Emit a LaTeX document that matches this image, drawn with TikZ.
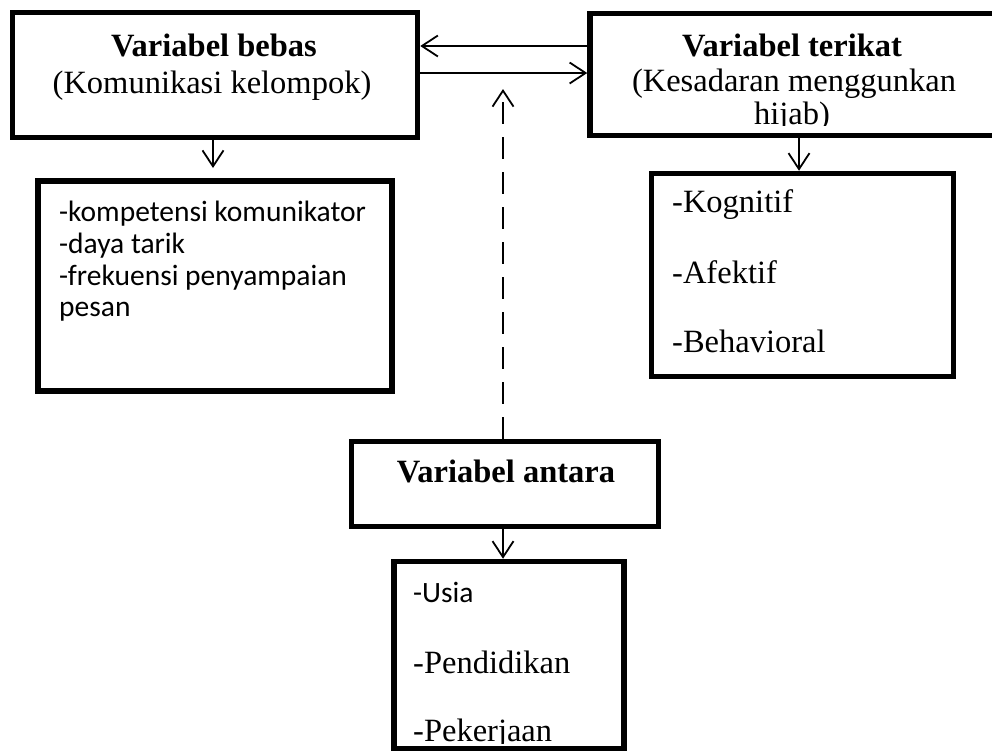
\documentclass[tikz,border=0pt]{standalone}
\usepackage{fontspec}
\setmainfont{Liberation Serif}
\setsansfont{Carlito}
\usetikzlibrary{arrows.meta}
\begin{document}
\begin{tikzpicture}[x=1pt,y=-1pt,
  box/.style={draw, line width=5.5pt, rectangle, inner sep=0pt, minimum width=#1},
  conn/.style={line width=1.8pt, -{Straight Barb[length=16pt,width=21pt,line width=1.8pt]}},
  dconn/.style={conn, dash pattern=on 22pt off 13pt},
  serif/.style={inner sep=0pt, anchor=base, font=\fontsize{32.5}{36}\selectfont},
  sserif/.style={inner sep=0pt, anchor=base west, font=\fontsize{32.5}{36}\selectfont},
  bserif/.style={inner sep=0pt, anchor=base, font=\fontsize{32.5}{36}\selectfont\bfseries},
  sans/.style={inner sep=0pt, anchor=base west, font=\sffamily\fontsize{29.5}{32}\selectfont}]
\useasboundingbox (0,0) rectangle (992,753);
\clip (0,0) rectangle (992,753);

% boxes (line centres)
\node[box=405pt, minimum height=125pt] (b1) at (215,75) {};
\node[box=408pt, minimum height=122pt] (b2) at (794,74.5) {};
\node[box=354pt, minimum height=210pt] (b3) at (215,286) {};
\node[box=302pt, minimum height=203pt] (b4) at (802.5,275) {};
\node[box=307pt, minimum height=85pt] (b5) at (505,484) {};
\node[box=230pt, minimum height=187pt] (b6) at (509,655) {};

% texts
\node[bserif] (t1a) at (214,56) {Variabel bebas};
\node[serif] (t1b) at (212,93) {(Komunikasi kelompok)};

\node[bserif] (t2a) at (792,56) {Variabel terikat};
\node[serif] (t2b) at (794,91) {(Kesadaran menggunkan};
\begin{scope}
  \clip (590,100) rectangle (992,125.5);
  \node[serif] (t2c) at (792,124) {hijab)};
\end{scope}

\node[sans] (t3a) at (59,221) {-kompetensi komunikator};
\node[sans] (t3b) at (59,253) {-daya tarik};
\node[sans] (t3c) at (59,285) {-frekuensi penyampaian};
\node[sans] (t3d) at (59,316) {pesan};

\node[sserif] (t4a) at (672,212) {-Kognitif};
\node[sserif] (t4b) at (672,283) {-Afektif};
\node[sserif] (t4c) at (672,352) {-Behavioral};

\node[bserif] (t5) at (506,482) {Variabel antara};

\node[sans] (t6a) at (413,602) {-Usia};
\node[sserif] (t6b) at (413,673) {-Pendidikan};
\begin{scope}
  \clip (395,700) rectangle (622,743);
  \node[sserif] (t6c) at (413,741) {-Pekerjaan};
\end{scope}

% connectors
\coordinate (a1s) at (b2.west |- 0,46);
\coordinate (a1e) at (b1.east |- 0,46);
\coordinate (a2s) at (b1.east |- 0,73);
\coordinate (a2e) at (b2.west |- 0,73);
\draw[conn] (a1s) -- (a1e);
\draw[conn] (a2s) -- (a2e);

\coordinate (d1s) at (b1.south -| 213,0);
\coordinate (d1e) at (213,168);
\draw[conn] (d1s) -- (d1e);

\coordinate (d2s) at (b2.south -| 799,0);
\coordinate (d2e) at (b4.north -| 799,0);
\draw[conn] (d2s) -- (d2e);

\coordinate (ds) at (b5.north -| 503,0);
\coordinate (de) at (503,89);
\draw[dconn] (ds) -- (de);

\coordinate (d3s) at (b5.south -| 503,0);
\coordinate (d3e) at (b6.north -| 503,0);
\draw[conn] (d3s) -- (d3e);
\end{tikzpicture}
\end{document}
